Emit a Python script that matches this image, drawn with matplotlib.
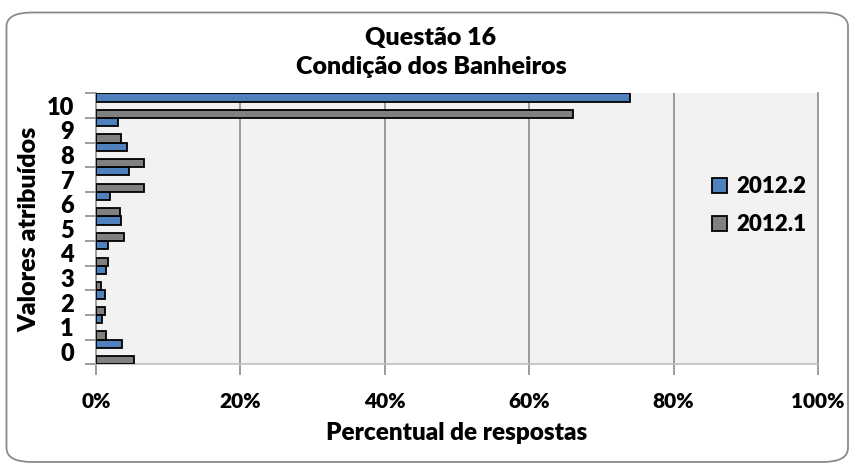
import matplotlib
matplotlib.use('Agg')
import matplotlib.pyplot as plt
from matplotlib.patches import FancyBboxPatch
import numpy as np

plt.rcParams['font.family'] = ['Lato', 'DejaVu Sans']
plt.rcParams['font.weight'] = 'heavy'

# valores atribuidos (0-10) e percentual de respostas por semestre
notas = ['0', '1', '2', '3', '4', '5', '6', '7', '8', '9', '10']
perc_2012_2 = [3.6, 0.9, 1.3, 1.4, 1.7, 3.5, 1.9, 4.6, 4.3, 3.0, 74.0]
perc_2012_1 = [5.2, 1.4, 1.3, 0.7, 1.7, 3.9, 3.3, 6.7, 6.6, 3.5, 66.0]
xticks = [0, 20, 40, 60, 80, 100]

azul = '#4F81BD'
cinza = '#808080'
grade = '#8C8C8C'
peso = 'heavy'

fig = plt.figure(figsize=(8.53, 4.67), dpi=100)

# moldura arredondada
frame = FancyBboxPatch((6.5 / 853, 1 - 462 / 467), (848 - 6.5) / 853, (462 - 12.5) / 467,
                       boxstyle='round,pad=0,rounding_size=0.03', transform=fig.transFigure,
                       facecolor='none', edgecolor='#8A8A8A', linewidth=1.3, zorder=-1)
fig.patches.append(frame)

ax = fig.add_axes([96 / 853, 1 - 364.3 / 467, (818 - 96) / 853, (364.3 - 93.3) / 467])
ax.set_facecolor('#F2F2F2')

y = np.arange(len(notas))
h = 1 / 3
ax.barh(y + h, perc_2012_2, height=h, color=azul, edgecolor='black', linewidth=1.3,
        label='2012.2', zorder=3)
ax.barh(y - h, perc_2012_1, height=h, color=cinza, edgecolor='black', linewidth=1.3,
        label='2012.1', zorder=3)

ax.set_xlim(0, 100)
ax.set_ylim(-0.5, len(notas) - 0.5)

ax.set_xticks(xticks)
ax.set_xticklabels(['%d%%' % v for v in xticks], fontsize=15, fontweight=peso)
ax.tick_params(axis='x', length=8, width=1.2, color=grade, pad=12)

ax.set_yticks(np.arange(-0.5, len(notas), 1))
ax.set_yticklabels([])
ax.set_yticks(y, minor=True)
ax.set_yticklabels(notas, minor=True, fontsize=17, fontweight=peso)
ax.tick_params(axis='y', which='major', length=8, width=1.2, color=grade)
ax.tick_params(axis='y', which='minor', length=0, pad=16)

for v in xticks[1:-1]:
    ax.axvline(v, color=grade, linewidth=1.2, zorder=1)

for s in ['left', 'right']:
    ax.spines[s].set_color(grade)
    ax.spines[s].set_linewidth(1.2)
ax.spines['bottom'].set_color('#BFBFBF')
ax.spines['bottom'].set_linewidth(1.2)
ax.spines['top'].set_visible(False)

fig.text(457 / 853, 1 - 433 / 467, 'Percentual de respostas', ha='center', va='center',
         fontsize=17.5, fontweight=peso)
fig.text(29 / 853, 1 - 229 / 467, 'Valores atribuídos', ha='center', va='center',
         rotation=90, fontsize=18, fontweight=peso)

fig.text(431 / 853, 1 - 38 / 467, 'Questão 16', ha='center', va='center', fontsize=18, fontweight=peso)
fig.text(431 / 853, 1 - 67 / 467, 'Condição dos Banheiros', ha='center', va='center',
         fontsize=18, fontweight=peso)

ax.legend(loc='center left', bbox_to_anchor=(0.826, 0.585), frameon=False,
          prop={'weight': peso, 'size': 16}, handlelength=0.68, handleheight=0.68,
          handletextpad=0.4, labelspacing=0.75)

fig.savefig('out.png', dpi=100)
